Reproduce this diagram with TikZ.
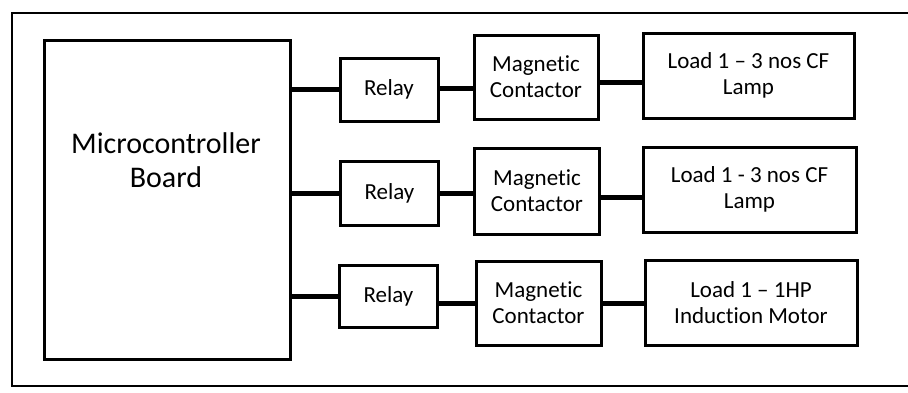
\documentclass[tikz,border=0pt]{standalone}
\usepackage{fontspec}
\setmainfont{Carlito}[Ligatures=NoCommon]
\usetikzlibrary{calc}
\begin{document}
\begin{tikzpicture}[x=1pt,y=-1pt,
  blockbox/.style={draw=black,line width=3pt,minimum width=#1,inner sep=0pt,align=center,
    font=\fontsize{23}{26}\selectfont},
  conn/.style={line width=5pt,line cap=butt},
  frame/.style={line width=2.5pt}]
\useasboundingbox (0,0) rectangle (908,392);
\fill[white] (0,0) rectangle (908,392);
% outer frame, open on the right
\draw[frame] (920,13) -- (12,13) -- (12,386) -- (920,386);
% controller
\node[blockbox=246pt,minimum height=319pt] (mcu) at (167,199.5) {};
\node[font=\fontsize{30}{34}\selectfont,align=center] (mcutext) at (166,160) {Microcontroller\\Board};
% relays
\node[blockbox=98pt,minimum height=63pt] (r1) at (389,89.5) {Relay};
\node[blockbox=98pt,minimum height=64pt] (r2) at (389.5,193) {Relay};
\node[blockbox=98pt,minimum height=62pt] (r3) at (388.5,296) {Relay};
% magnetic contactors
\node[blockbox=124pt,minimum height=84pt] (m1) at (536,77) {Magnetic\\Contactor};
\node[blockbox=125pt,minimum height=86pt] (m2) at (537,191) {Magnetic\\Contactor};
\node[blockbox=125pt,minimum height=84pt] (m3) at (538.5,303) {Magnetic\\Contactor};
% loads
\node[blockbox=211pt,minimum height=85pt] (l1) at (748.5,75.5) {Load 1 – 3 nos CF\\Lamp};
\node[blockbox=213pt,minimum height=85pt] (l2) at (749.5,189.5) {Load 1 - 3 nos CF\\Lamp};
\node[blockbox=212pt,minimum height=85pt] (l3) at (751,302.5) {Load 1 – 1HP\\Induction Motor};
% controller to relays
\draw[conn] (r1.west -| mcu.east) -- (r1.west);
\draw[conn] (r2.west -| mcu.east) -- (r2.west);
\draw[conn] (r3.west -| mcu.east) -- (r3.west);
% relays to contactors
\draw[conn] ([yshift=1.5pt]r1.east) -- ([yshift=1.5pt]r1.east -| m1.west);
\draw[conn] (r2.east) -- (r2.east -| m2.west);
\draw[conn] (m3.west -| r3.east) -- (m3.west);
% contactors to loads
\draw[conn] ([yshift=-5pt]m1.east) -- ([yshift=-5pt]m1.east -| l1.west);
\draw[conn] ([yshift=-6pt]m2.east) -- ([yshift=-6pt]m2.east -| l2.west);
\draw[conn] (m3.east) -- (m3.east -| l3.west);
\end{tikzpicture}
\end{document}
